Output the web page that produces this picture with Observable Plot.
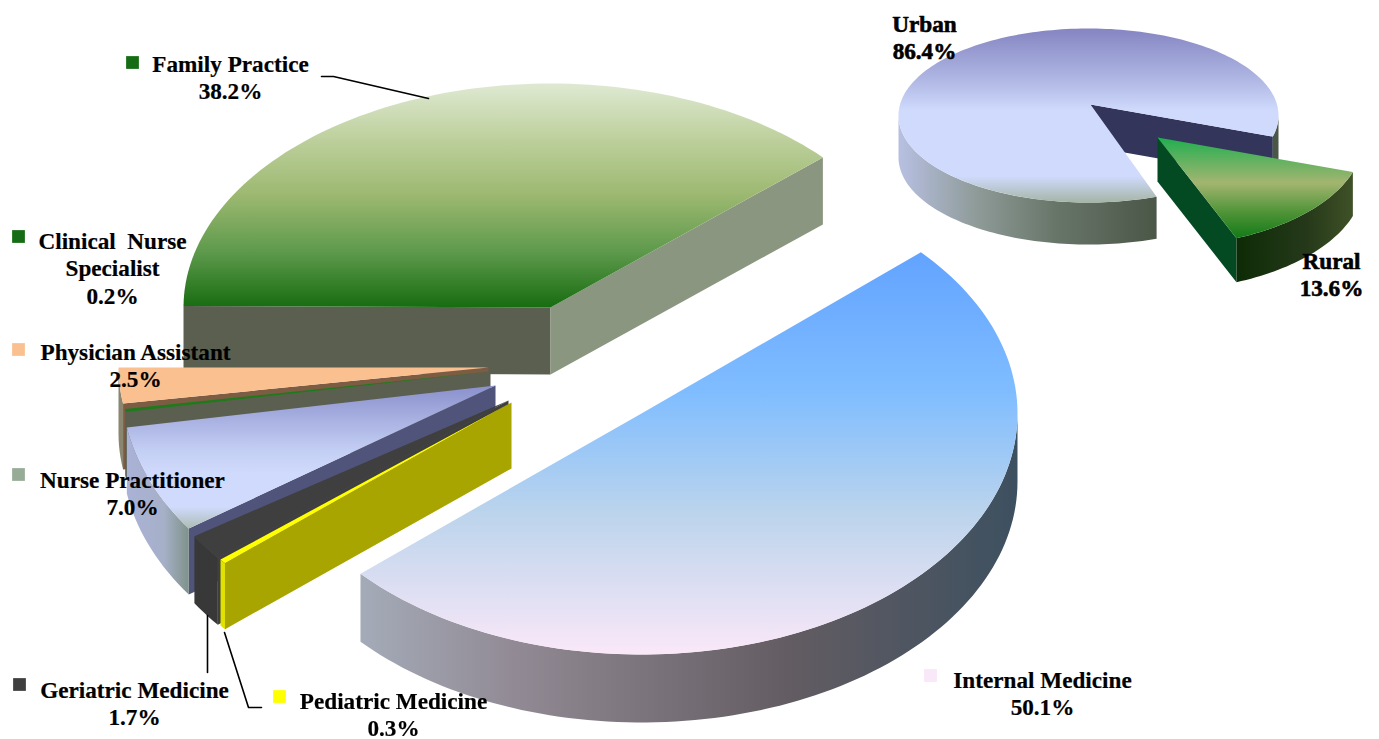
<!DOCTYPE html>
<html>
<head>
<meta charset="utf-8">
<script src="https://cdn.jsdelivr.net/npm/d3@7"></script>
<script src="https://cdn.jsdelivr.net/npm/@observablehq/plot@0.6"></script>
<style>
html,body{margin:0;padding:0;background:#fff;overflow:hidden}
svg{display:block;filter:blur(0.4px)}
</style>
</head>
<body>
<div id="chart"></div>
<script>
// ---- values ----
const specialties = ["Internal Medicine","Pediatric Medicine","Geriatric Medicine","Nurse Practitioner","Clinical Nurse Specialist","Physician Assistant","Family Practice"];
const specialtyShares = [50.1,0.3,1.7,7.0,0.2,2.5,38.2];
const settings = ["Urban","Rural"];
const settingShares = [86.4,13.6];

// ---- drawing layout of each slice (ellipse, apex, start angle, thickness) ----
const geometry = {
  "Family Practice":   {cx:550,cy:307,a:367,b:224,start:-180.4,depth:67},
  "Physician Assistant":{cx:488,cy:367,a:370,b:230,start:-171,depth:66},
  "Clinical Nurse Specialist":{cx:490,cy:371,a:370,b:240,start:-170.3,depth:66},
  "Nurse Practitioner":{cx:495,cy:385,a:374,b:250,start:-145.1,depth:66},
  "Geriatric Medicine":{cx:508,cy:400,a:374,b:250,start:-141,depth:67},
  "Pediatric Medicine":{cx:511,cy:402,a:374,b:250,start:-140,depth:66},
  "Internal Medicine": {cx:641,cy:413,a:376,b:241,start:42,depth:68},
  "Urban":{cx:1088,cy:115,a:190,b:87,ax:1090,ay:104,start:-69,depth:42,trim:6},
  "Rural":{cx:1157,cy:137,a:206,b:109,start:-18.5,depth:44}
};
const styles = {
  "Family Practice":   {top:"url(#gFamily)",cutStart:"#5a5f50",cutEnd:"#8b9680",rim:"#5a5f50"},
  "Physician Assistant":{top:"#fbc08f",cutStart:"#7d5c44",cutEnd:"#7d5c44",rim:"#8b8670"},
  "Clinical Nurse Specialist":{top:"#1d7a1d",cutStart:"#5a5f50",cutEnd:"#5a5f50",rim:"#5a5f50"},
  "Nurse Practitioner":{top:"url(#gNurse)",cutStart:"#50537a",cutEnd:"#50537a",rim:"url(#gNurseRim)"},
  "Geriatric Medicine":{top:"#3f3f3f",cutStart:"#3f3f3f",cutEnd:"#3f3f3f",rim:"#383838"},
  "Pediatric Medicine":{top:"#ffff00",cutStart:"#a8a400",cutEnd:"#a8a400",rim:"#e2e200"},
  "Internal Medicine": {top:"url(#gInternal)",cutStart:"#888",cutEnd:"#888",rim:"url(#gInternalRim)"},
  "Urban":{top:"url(#gUrban)",cutStart:"#33365a",cutEnd:"#33365a",rim:"url(#gUrbanRim)"},
  "Rural":{top:"url(#gRural)",cutStart:"#034a22",cutEnd:"#034a22",rim:"url(#gRuralRim)"}
};
const paintOrder = ["Urban","Rural","Family Practice","Physician Assistant","Clinical Nurse Specialist","Nurse Practitioner","Geriatric Medicine","Pediatric Medicine","Internal Medicine"];

const gradients = [
  {id:"gFamily",dir:"v",stops:[[0,"#dfe9d2"],[0.25,"#bdd09c"],[0.5,"#9cb870"],[0.75,"#5e9a4c"],[1,"#176c10"]]},
  {id:"gNurse",dir:"v",stops:[[0,"#8a90cc"],[0.45,"#c3cef4"],[0.62,"#cfdafc"],[0.85,"#cfdafc"],[1,"#adbcb4"]]},
  {id:"gNurseRim",dir:"h",stops:[[0,"#aab2d6"],[0.6,"#a6b0c8"],[1,"#7f928a"]]},
  {id:"gInternal",dir:"v",stops:[[0,"#62a3ff"],[0.35,"#80bdff"],[0.65,"#bcd4ec"],[1,"#fae8f8"]]},
  {id:"gInternalRim",dir:"h",stops:[[0,"#a4abb8"],[0.25,"#908892"],[0.65,"#635c62"],[1,"#3d5060"]]},
  {id:"gUrban",dir:"v",stops:[[0,"#8585c2"],[0.3,"#b0b8e4"],[0.47,"#cfdafc"],[0.85,"#cfdafc"],[1,"#a5b5a5"]]},
  {id:"gUrbanRim",dir:"h",span:[898,1158],stops:[[0,"#b8c0e2"],[0.3,"#8e9b98"],[0.6,"#68766a"],[1,"#4a5646"]]},
  {id:"gRural",dir:"v",stops:[[0,"#1fae50"],[0.45,"#a3b570"],[0.75,"#4d9336"],[1,"#137a17"]]},
  {id:"gRuralRim",dir:"h",stops:[[0,"#0d2b06"],[0.6,"#25391a"],[1,"#3f5126"]]}
];

// ---- label placement ----
const labelPlacement = {
  "Family Practice":{x:230,y:76,sx:132,sy:62,color:"#156c14",text:"Family Practice"},
  "Clinical Nurse Specialist":{x:112,y:267,sx:18,sy:236,color:"#156c14",text:"Clinical\u00a0\u00a0Nurse\nSpecialist"},
  "Physician Assistant":{x:135,y:364,sx:18,sy:349,color:"#fbc08f",text:"Physician Assistant"},
  "Nurse Practitioner":{x:132,y:492,sx:18,sy:474,color:"#97ac97",text:"Nurse Practitioner"},
  "Geriatric Medicine":{x:134,y:702,sx:19,sy:684,color:"#3f3f3f",text:"Geriatric Medicine"},
  "Pediatric Medicine":{x:393,y:713,sx:279,sy:696,color:"#ffff00",text:"Pediatric Medicine"},
  "Internal Medicine":{x:1042,y:692,sx:930,sy:675,color:"#f8e8f8",text:"Internal Medicine"},
  "Urban":{x:924,y:36,heavy:true,text:"Urban"},
  "Rural":{x:1331,y:273,heavy:true,text:"Rural"}
};
const leaders = [
  {id:"family",pts:[[321,76],[333,76],[428,98]]},
  {id:"geriatric",pts:[[207,615],[207,672]]},
  {id:"pediatric",pts:[[224,632],[248,707],[261,707]]}
];

// ---- build faces from the shares ----
const shareOf = new Map([...specialties.map((n,i)=>[n,specialtyShares[i]]),...settings.map((n,i)=>[n,settingShares[i]])]);
const rad = d => d*Math.PI/180;
function rimPoint(g,deg,dy=0){return {x:g.cx+g.a*Math.cos(rad(deg)),y:g.cy-g.b*Math.sin(rad(deg))+dy};}
function arc(g,from,to,dy=0){
  const n=Math.max(2,Math.ceil(Math.abs(to-from)/1.5)),out=[];
  for(let i=0;i<=n;i++) out.push(rimPoint(g,from+(to-from)*i/n,dy));
  return out;
}
function facesOf(name){
  const g=geometry[name],st=styles[name];
  const s=g.start,e=s-shareOf.get(name)*3.6+(g.trim||0);
  const apex={x:g.ax??g.cx,y:g.ay??g.cy};
  const faces=[];
  const cut=(deg,fill)=>{
    const r=rimPoint(g,deg);
    faces.push({fill,pts:[apex,r,{x:r.x,y:r.y+g.depth},{x:apex.x,y:apex.y+g.depth}]});
  };
  if(Math.cos(rad(s))<0) cut(s,st.cutStart);
  if(Math.cos(rad(e))>0) cut(e,st.cutEnd);
  for(let k=-2;k<=1;k++){
    const lo=Math.max(e,-180+360*k),hi=Math.min(s,360*k);
    if(hi>lo){
      const top=arc(g,hi,lo),bot=arc(g,lo,hi,g.depth);
      faces.push({fill:st.rim,pts:[...top,...bot]});
    }
  }
  faces.push({fill:st.top,pts:[apex,...arc(g,s,e)]});
  return faces;
}
const faceMarks=paintOrder.flatMap(facesOf).map(f=>Plot.line(f.pts,{x:"x",y:"y",fill:f.fill,stroke:"none",curve:"linear-closed"}));

const defsMark=()=>{
  const ns="http://www.w3.org/2000/svg";
  const defs=document.createElementNS(ns,"defs");
  for(const gr of gradients){
    const el=document.createElementNS(ns,"linearGradient");
    el.setAttribute("id",gr.id);
    if(gr.span){
      el.setAttribute("gradientUnits","userSpaceOnUse");
      el.setAttribute("x1",gr.span[0]);el.setAttribute("x2",gr.span[1]);el.setAttribute("y1",0);el.setAttribute("y2",0);
    }else{
      el.setAttribute("x1",0);el.setAttribute("y1",0);
      el.setAttribute("x2",gr.dir==="h"?1:0);el.setAttribute("y2",gr.dir==="v"?1:0);
    }
    for(const [o,c] of gr.stops){
      const st=document.createElementNS(ns,"stop");
      st.setAttribute("offset",o);st.setAttribute("stop-color",c);el.appendChild(st);
    }
    defs.appendChild(el);
  }
  return defs;
};

const labelRows=Object.entries(labelPlacement).map(([name,p])=>({...p,label:p.text+"\n"+shareOf.get(name).toFixed(1)+"%"}));
const squareRows=labelRows.filter(d=>d.color);
const font={fontFamily:"'Liberation Serif','Times New Roman',serif",fontWeight:"bold",fontSize:23.2,lineHeight:1.2,fill:"#000",stroke:"#000"};

const chart=Plot.plot({
  width:1379,height:739,margin:0,
  style:{background:"#fff",overflow:"visible"},
  x:{domain:[0,1379],range:[0,1379],axis:null},
  y:{domain:[0,739],range:[0,739],axis:null},
  marks:[
    defsMark,
    ...faceMarks,
    ...leaders.map(l=>Plot.line(l.pts,{x:d=>d[0],y:d=>d[1],stroke:"#000",strokeWidth:1.6})),
    Plot.dot(squareRows,{x:"sx",y:"sy",symbol:"square",r:7.2,fill:"color",stroke:"none"}),
    Plot.text(labelRows.filter(d=>!d.heavy),{x:"x",y:"y",text:"label",...font,strokeWidth:0.2}),
    Plot.text(labelRows.filter(d=>d.heavy),{x:"x",y:"y",text:"label",...font,strokeWidth:0.6})
  ]
});
document.getElementById("chart").appendChild(chart);
</script>
</body>
</html>
